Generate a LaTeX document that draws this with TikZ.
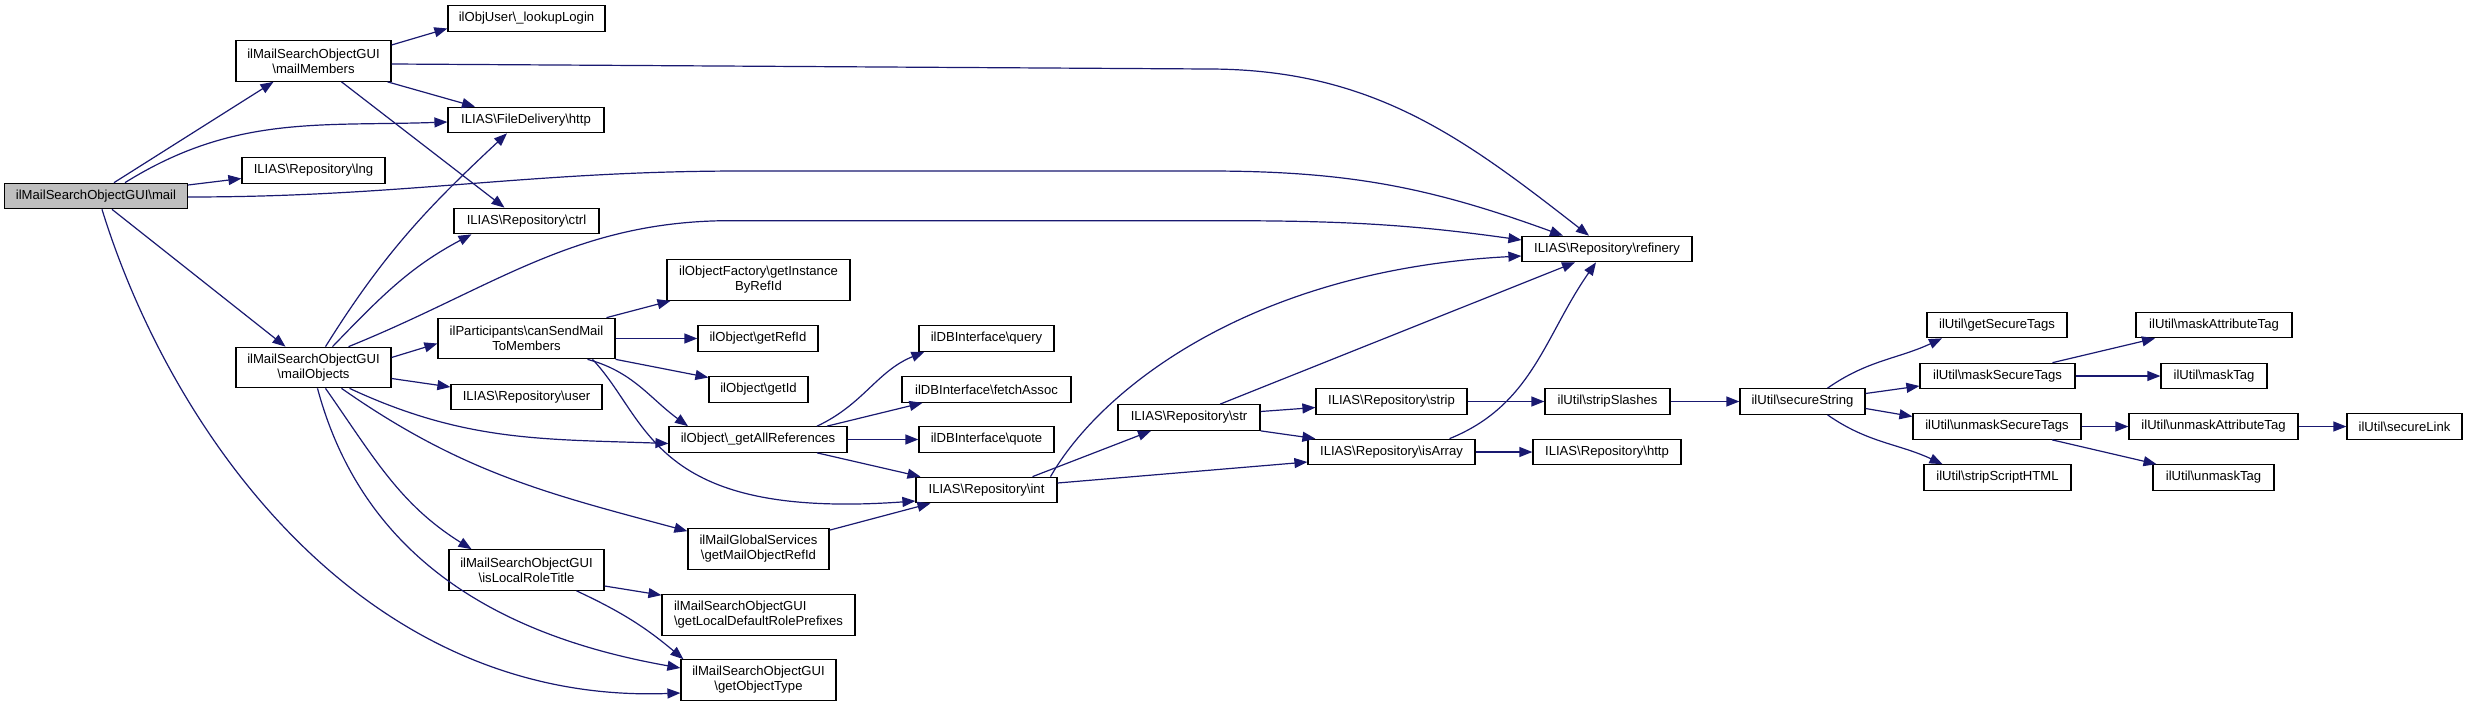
\documentclass[tikz,border=0pt]{standalone}
\usepackage{fontspec}
\setmainfont{Liberation Sans}
\usetikzlibrary{arrows.meta}
\definecolor{edgeblue}{RGB}{25,25,112}
\definecolor{nodegray}{RGB}{191,191,191}
\newcommand{\bks}{\textbackslash}
\tikzset{
  fn/.style={draw=black, line width=1.2pt, fill=white, inner sep=0pt, align=center,
    minimum height=25.5pt, font=\fontsize{13.1}{15}\selectfont},
  fnn/.style={fn, minimum height=40.5pt},
  call/.style={draw=edgeblue, line width=1.2pt, -{Triangle[length=13pt,width=10pt]}}
}
\begin{document}
\begin{tikzpicture}[x=1pt,y=1pt]
			\useasboundingbox (0,0) rectangle (2467,-706);
			\node[fn, fill=nodegray, minimum width=183pt] (mail) at (96,-196) {ilMailSearchObjectGUI\bks mail};
			\node[fnn, minimum width=155pt] (mailMembers) at (313.5,-61) {ilMailSearchObjectGUI\\\bks mailMembers};
			\node[fn, minimum width=157pt] (lookupLogin) at (526.5,-18.5) {ilObjUser\bks\_lookupLogin};
			\node[fn, minimum width=156pt] (fileHttp) at (526,-120) {ILIAS\bks FileDelivery\bks http};
			\node[fn, minimum width=143pt] (lng) at (313.5,-170.5) {ILIAS\bks Repository\bks lng};
			\node[fn, minimum width=145pt] (ctrl) at (526.5,-221) {ILIAS\bks Repository\bks ctrl};
			\node[fnn, minimum width=177pt] (canSend) at (526.5,-338.5) {ilParticipants\bks canSendMail\\ToMembers};
			\node[fnn, minimum width=155pt] (mailObjects) at (313.5,-367.5) {ilMailSearchObjectGUI\\\bks mailObjects};
			\node[fn, minimum width=151pt] (user) at (526.5,-397) {ILIAS\bks Repository\bks user};
			\node[fnn, minimum width=155pt] (isLocal) at (526.5,-570) {ilMailSearchObjectGUI\\\bks isLocalRoleTitle};
			\node[fnn, minimum width=183pt] (getInstance) at (758.5,-280) {ilObjectFactory\bks getInstance\\ByRefId};
			\node[fn, minimum width=120pt] (getRefId) at (758,-338.5) {ilObject\bks getRefId};
			\node[fn, minimum width=99pt] (getId) at (758.5,-389.5) {ilObject\bks getId};
			\node[fn, minimum width=178pt] (getAllRef) at (758,-439.5) {ilObject\bks\_getAllReferences};
			\node[fnn, minimum width=141pt] (getMailObj) at (758.5,-549) {ilMailGlobalServices\\\bks getMailObjectRefId};
			\node[fnn, minimum width=193pt, align=left] (getLocalDef) at (758.5,-615) {ilMailSearchObjectGUI\\\bks getLocalDefaultRolePrefixes};
			\node[fnn, minimum width=155pt] (getObjectType) at (758.5,-680) {ilMailSearchObjectGUI\\\bks getObjectType};
			\node[fn, minimum width=135pt] (query) at (986.5,-338.5) {ilDBInterface\bks query};
			\node[fn, minimum width=169pt] (fetchAssoc) at (986.5,-389.5) {ilDBInterface\bks fetchAssoc};
			\node[fn, minimum width=135pt] (quote) at (986.5,-439.5) {ilDBInterface\bks quote};
			\node[fn, minimum width=141pt] (int) at (986.5,-490) {ILIAS\bks Repository\bks int};
			\node[fn, minimum width=142pt] (str) at (1189,-417.5) {ILIAS\bks Repository\bks str};
			\node[fn, minimum width=151pt] (strip) at (1391.5,-401.5) {ILIAS\bks Repository\bks strip};
			\node[fn, minimum width=167pt] (isArray) at (1391.5,-452) {ILIAS\bks Repository\bks isArray};
			\node[fn, minimum width=170pt] (refinery) at (1607,-249) {ILIAS\bks Repository\bks refinery};
			\node[fn, minimum width=148pt] (repoHttp) at (1607,-452) {ILIAS\bks Repository\bks http};
			\node[fn, minimum width=125pt] (stripSlashes) at (1607.5,-401.5) {ilUtil\bks stripSlashes};
			\node[fn, minimum width=125pt] (secureString) at (1802.5,-401.5) {ilUtil\bks secureString};
			\node[fn, minimum width=140pt] (getSecureTags) at (1997,-325) {ilUtil\bks getSecureTags};
			\node[fn, minimum width=155pt] (maskSecureTags) at (1997.5,-376) {ilUtil\bks maskSecureTags};
			\node[fn, minimum width=168pt] (unmaskSecureTags) at (1997,-426.5) {ilUtil\bks unmaskSecureTags};
			\node[fn, minimum width=147pt] (stripScript) at (1997.5,-477.5) {ilUtil\bks stripScriptHTML};
			\node[fn, minimum width=156pt] (maskAttr) at (2214,-325) {ilUtil\bks maskAttributeTag};
			\node[fn, minimum width=106pt] (maskTag) at (2214,-376) {ilUtil\bks maskTag};
			\node[fn, minimum width=169pt] (unmaskAttr) at (2213.5,-426.5) {ilUtil\bks unmaskAttributeTag};
			\node[fn, minimum width=121pt] (unmaskTag) at (2213.5,-477.5) {ilUtil\bks unmaskTag};
			\node[fn, minimum width=115pt] (secureLink) at (2404.5,-426.5) {ilUtil\bks secureLink};
			\draw[call] ([xshift=18]mail.north) -- ([xshift=-40]mailMembers.south);
			\draw[call] ([xshift=29]mail.north) to[out=32,in=182] ([yshift=-2]fileHttp.west);
			\draw[call] ([yshift=11]mail.east) -- ([yshift=-8]lng.west);
			\draw[call] ([yshift=-1]mail.east) to[out=0,in=180] ++(555,26) -- ++(464,0) to[out=0,in=160] ([xshift=-44]refinery.north);
			\draw[call] ([xshift=16]mail.south) -- ([xshift=-28]mailObjects.north);
			\draw[call] ([xshift=6]mail.south) .. controls (170,-430) and (360,-705) .. ([yshift=-13]getObjectType.west);
			\draw[call] ([yshift=16]mailMembers.east) -- ([yshift=-10]lookupLogin.west);
			\draw[call] ([yshift=-3]mailMembers.east) -- ++(816,-5) to[out=0,in=142] ([xshift=-18]refinery.north);
			\draw[call] ([xshift=74]mailMembers.south) -- ([xshift=-51]fileHttp.north);
			\draw[call] ([xshift=28]mailMembers.south) -- ([xshift=-22]ctrl.north);
			\draw[call] ([xshift=12]mailObjects.north) to[out=58,in=223] ([xshift=-19]fileHttp.south);
			\draw[call] ([xshift=19]mailObjects.north) to[out=46,in=208] ([xshift=-55]ctrl.south);
			\draw[call] ([xshift=35]mailObjects.north) to[out=22,in=180] ++(383,126) -- ++(476,0) to[out=0,in=172] ([yshift=9]refinery.west);
			\draw[call] ([yshift=10]mailObjects.east) -- ([yshift=-5]canSend.west);
			\draw[call] ([yshift=-11]mailObjects.east) -- ([yshift=10]user.west);
			\draw[call] ([xshift=36]mailObjects.south) to[out=-25,in=178] ([yshift=-4]getAllRef.west);
			\draw[call] ([xshift=28]mailObjects.south) to[out=-35,in=165] ([yshift=-3]getMailObj.north west);
			\draw[call] ([xshift=12]mailObjects.south) to[out=-55,in=148] ([xshift=-55]isLocal.north);
			\draw[call] ([xshift=4]mailObjects.south) to[out=-75,in=170] ([yshift=12]getObjectType.west);
			\draw[call] ([xshift=80]canSend.north) -- ([xshift=-88]getInstance.south);
			\draw[call] (canSend.east) -- (getRefId.west);
			\draw[call] (canSend.south east) -- ([yshift=12]getId.west);
			\draw[call] ([xshift=61]canSend.south) to[out=-15,in=144] ([xshift=-70]getAllRef.north);
			\draw[call] ([xshift=66]canSend.south) .. controls (650,-420) and (650,-520) .. ([yshift=-11]int.west);
			\draw[call] ([xshift=59]getAllRef.north) to[out=25,in=202] ([xshift=6]query.south west);
			\draw[call] ([xshift=69]getAllRef.north) -- ([xshift=-64]fetchAssoc.south);
			\draw[call] (getAllRef.east) -- (quote.west);
			\draw[call] ([xshift=59]getAllRef.south) -- ([xshift=-66]int.north);
			\draw[call] ([yshift=-2]getMailObj.north east) -- ([xshift=-56]int.south);
			\draw[call] ([yshift=-16]isLocal.east) -- ([yshift=-1]getLocalDef.north west);
			\draw[call] ([xshift=50]isLocal.south) to[out=-25,in=140] ([xshift=3]getObjectType.north west);
			\draw[call] ([xshift=64]int.north) .. controls (1100,-390) and (1250,-270) .. ([yshift=-7]refinery.west);
			\draw[call] ([xshift=46]int.north) -- ([xshift=-38]str.south);
			\draw[call] ([yshift=7]int.east) -- ([yshift=-10]isArray.west);
			\draw[call] ([xshift=31]str.north) -- ([xshift=-32]refinery.south);
			\draw[call] ([yshift=6]str.east) -- ([yshift=-6]strip.west);
			\draw[call] (str.south east) -- ([xshift=8]isArray.north west);
			\draw[call] (strip.east) -- (stripSlashes.west);
			\draw[call] ([xshift=58]isArray.north) to[out=22,in=-125] ([xshift=-11]refinery.south);
			\draw[call] (isArray.east) -- (repoHttp.west);
			\draw[call] (stripSlashes.east) -- (secureString.west);
			\draw[call] ([xshift=25]secureString.north) to[out=35,in=205] ([xshift=-55]getSecureTags.south);
			\draw[call] ([yshift=8]secureString.east) -- ([yshift=-10]maskSecureTags.west);
			\draw[call] ([yshift=-7]secureString.east) -- ([yshift=10]unmaskSecureTags.west);
			\draw[call] ([xshift=25]secureString.south) to[out=-35,in=155] ([xshift=-55]stripScript.north);
			\draw[call] ([xshift=55]maskSecureTags.north) -- ([xshift=-59]maskAttr.south);
			\draw[call] (maskSecureTags.east) -- (maskTag.west);
			\draw[call] (unmaskSecureTags.east) -- (unmaskAttr.west);
			\draw[call] ([xshift=55]unmaskSecureTags.south) -- ([xshift=-57]unmaskTag.north);
			\draw[call] (unmaskAttr.east) -- (secureLink.west);
		\end{tikzpicture}
\end{document}
